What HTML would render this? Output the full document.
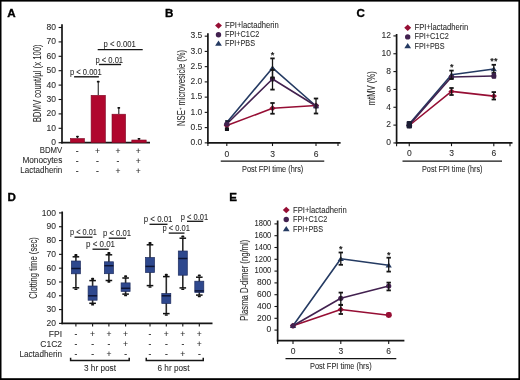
<!DOCTYPE html><html><head><meta charset="utf-8"><style>html,body{margin:0;padding:0;background:#fff;overflow:hidden;}svg{display:block;will-change:transform;}</style></head><body>
<svg width="520" height="380" viewBox="0 0 520 380" font-family='"Liberation Sans", sans-serif'>
<rect x="0" y="0" width="520" height="380" fill="#fff"/>
<rect x="0" y="0" width="520" height="1.6" fill="#000"/>
<rect x="0" y="0" width="1.5" height="380" fill="#000"/>
<rect x="518.4" y="0" width="1.6" height="380" fill="#000"/>
<rect x="0" y="378.2" width="520" height="1.8" fill="#000"/>
<text x="7.2" y="17.2" font-size="11.6" text-anchor="start" fill="#000" font-weight="bold" stroke="#000" stroke-width="0.35">A</text>
<text x="165.0" y="17.2" font-size="11.6" text-anchor="start" fill="#000" font-weight="bold" stroke="#000" stroke-width="0.35">B</text>
<text x="356.6" y="17.2" font-size="11.6" text-anchor="start" fill="#000" font-weight="bold" stroke="#000" stroke-width="0.35">C</text>
<text x="7.4" y="201.4" font-size="11.6" text-anchor="start" fill="#000" font-weight="bold" stroke="#000" stroke-width="0.35">D</text>
<text x="229.2" y="201.4" font-size="11.6" text-anchor="start" fill="#000" font-weight="bold" stroke="#000" stroke-width="0.35">E</text>
<line x1="62.0" y1="24.3" x2="62.0" y2="143.5" stroke="#151515" stroke-width="1.7" stroke-linecap="butt"/>
<line x1="61.2" y1="142.7" x2="150" y2="142.7" stroke="#151515" stroke-width="1.7" stroke-linecap="butt"/>
<line x1="58.6" y1="142.7" x2="62.0" y2="142.7" stroke="#151515" stroke-width="1.1" stroke-linecap="butt"/>
<text x="55.9" y="145.2" font-size="8.5" text-anchor="end" fill="#2b2b2b" font-weight="normal" stroke="#2b2b2b" stroke-width="0.08">0</text>
<line x1="58.6" y1="128.29999999999998" x2="62.0" y2="128.29999999999998" stroke="#151515" stroke-width="1.1" stroke-linecap="butt"/>
<text x="55.9" y="130.79999999999998" font-size="8.5" text-anchor="end" fill="#2b2b2b" font-weight="normal" stroke="#2b2b2b" stroke-width="0.08">10</text>
<line x1="58.6" y1="113.89999999999999" x2="62.0" y2="113.89999999999999" stroke="#151515" stroke-width="1.1" stroke-linecap="butt"/>
<text x="55.9" y="116.39999999999999" font-size="8.5" text-anchor="end" fill="#2b2b2b" font-weight="normal" stroke="#2b2b2b" stroke-width="0.08">20</text>
<line x1="58.6" y1="99.5" x2="62.0" y2="99.5" stroke="#151515" stroke-width="1.1" stroke-linecap="butt"/>
<text x="55.9" y="102.0" font-size="8.5" text-anchor="end" fill="#2b2b2b" font-weight="normal" stroke="#2b2b2b" stroke-width="0.08">30</text>
<line x1="58.6" y1="85.1" x2="62.0" y2="85.1" stroke="#151515" stroke-width="1.1" stroke-linecap="butt"/>
<text x="55.9" y="87.6" font-size="8.5" text-anchor="end" fill="#2b2b2b" font-weight="normal" stroke="#2b2b2b" stroke-width="0.08">40</text>
<line x1="58.6" y1="70.69999999999999" x2="62.0" y2="70.69999999999999" stroke="#151515" stroke-width="1.1" stroke-linecap="butt"/>
<text x="55.9" y="73.19999999999999" font-size="8.5" text-anchor="end" fill="#2b2b2b" font-weight="normal" stroke="#2b2b2b" stroke-width="0.08">50</text>
<line x1="58.6" y1="56.3" x2="62.0" y2="56.3" stroke="#151515" stroke-width="1.1" stroke-linecap="butt"/>
<text x="55.9" y="58.8" font-size="8.5" text-anchor="end" fill="#2b2b2b" font-weight="normal" stroke="#2b2b2b" stroke-width="0.08">60</text>
<line x1="58.6" y1="41.89999999999999" x2="62.0" y2="41.89999999999999" stroke="#151515" stroke-width="1.1" stroke-linecap="butt"/>
<text x="55.9" y="44.39999999999999" font-size="8.5" text-anchor="end" fill="#2b2b2b" font-weight="normal" stroke="#2b2b2b" stroke-width="0.08">70</text>
<line x1="58.6" y1="27.5" x2="62.0" y2="27.5" stroke="#151515" stroke-width="1.1" stroke-linecap="butt"/>
<text x="55.9" y="30.0" font-size="8.5" text-anchor="end" fill="#2b2b2b" font-weight="normal" stroke="#2b2b2b" stroke-width="0.08">80</text>
<text x="0" y="0" font-size="10" text-anchor="middle" fill="#2b2b2b" stroke="#2b2b2b" stroke-width="0.08" transform="translate(41.3,83.3) rotate(-90)" textLength="78" lengthAdjust="spacingAndGlyphs">BDMV count/µl (x 100)</text>
<line x1="77.44999999999999" y1="138.2" x2="77.44999999999999" y2="136.3" stroke="#222" stroke-width="1.1" stroke-linecap="butt"/>
<rect x="76.04999999999998" y="135.70000000000002" width="2.8" height="1.8" rx="0.7" fill="#111"/>
<rect x="70.39999999999999" y="138.5" width="14.100000000000003" height="4.2" fill="#b0072e" stroke="#7e0a26" stroke-width="0.6"/>
<line x1="98.25" y1="95.0" x2="98.25" y2="81.4" stroke="#222" stroke-width="1.1" stroke-linecap="butt"/>
<rect x="96.85" y="80.80000000000001" width="2.8" height="1.8" rx="0.7" fill="#111"/>
<rect x="91.1" y="95.3" width="14.300000000000006" height="47.39999999999999" fill="#b0072e" stroke="#7e0a26" stroke-width="0.6"/>
<line x1="118.80000000000001" y1="113.9" x2="118.80000000000001" y2="107.6" stroke="#222" stroke-width="1.1" stroke-linecap="butt"/>
<rect x="117.4" y="107.0" width="2.8" height="1.8" rx="0.7" fill="#111"/>
<rect x="112.0" y="114.2" width="13.600000000000003" height="28.499999999999982" fill="#b0072e" stroke="#7e0a26" stroke-width="0.6"/>
<line x1="139.0" y1="139.7" x2="139.0" y2="138.5" stroke="#222" stroke-width="1.1" stroke-linecap="butt"/>
<rect x="137.6" y="137.9" width="2.8" height="1.8" rx="0.7" fill="#111"/>
<rect x="131.8" y="140.0" width="14.4" height="2.7" fill="#b0072e" stroke="#7e0a26" stroke-width="0.6"/>
<text x="62.3" y="153.2" font-size="8.5" text-anchor="end" fill="#2b2b2b" font-weight="normal" stroke="#2b2b2b" stroke-width="0.08" textLength="22.5" lengthAdjust="spacingAndGlyphs">BDMV</text>
<text x="77.1" y="153.89999999999998" font-size="8.5" text-anchor="middle" fill="#2b2b2b" font-weight="normal" stroke="#2b2b2b" stroke-width="0.08">-</text>
<text x="97.5" y="153.89999999999998" font-size="8.5" text-anchor="middle" fill="#2b2b2b" font-weight="normal" stroke="#2b2b2b" stroke-width="0.08">+</text>
<text x="117.89999999999999" y="153.89999999999998" font-size="8.5" text-anchor="middle" fill="#2b2b2b" font-weight="normal" stroke="#2b2b2b" stroke-width="0.08">+</text>
<text x="138.2" y="153.89999999999998" font-size="8.5" text-anchor="middle" fill="#2b2b2b" font-weight="normal" stroke="#2b2b2b" stroke-width="0.08">+</text>
<text x="62.3" y="163.4" font-size="8.5" text-anchor="end" fill="#2b2b2b" font-weight="normal" stroke="#2b2b2b" stroke-width="0.08" textLength="39.9" lengthAdjust="spacingAndGlyphs">Monocytes</text>
<text x="77.1" y="164.1" font-size="8.5" text-anchor="middle" fill="#2b2b2b" font-weight="normal" stroke="#2b2b2b" stroke-width="0.08">-</text>
<text x="97.5" y="164.1" font-size="8.5" text-anchor="middle" fill="#2b2b2b" font-weight="normal" stroke="#2b2b2b" stroke-width="0.08">-</text>
<text x="117.89999999999999" y="164.1" font-size="8.5" text-anchor="middle" fill="#2b2b2b" font-weight="normal" stroke="#2b2b2b" stroke-width="0.08">-</text>
<text x="138.2" y="164.1" font-size="8.5" text-anchor="middle" fill="#2b2b2b" font-weight="normal" stroke="#2b2b2b" stroke-width="0.08">+</text>
<text x="62.3" y="172.9" font-size="8.5" text-anchor="end" fill="#2b2b2b" font-weight="normal" stroke="#2b2b2b" stroke-width="0.08" textLength="42" lengthAdjust="spacingAndGlyphs">Lactadherin</text>
<text x="77.1" y="173.6" font-size="8.5" text-anchor="middle" fill="#2b2b2b" font-weight="normal" stroke="#2b2b2b" stroke-width="0.08">-</text>
<text x="97.5" y="173.6" font-size="8.5" text-anchor="middle" fill="#2b2b2b" font-weight="normal" stroke="#2b2b2b" stroke-width="0.08">-</text>
<text x="117.89999999999999" y="173.6" font-size="8.5" text-anchor="middle" fill="#2b2b2b" font-weight="normal" stroke="#2b2b2b" stroke-width="0.08">+</text>
<text x="138.2" y="173.6" font-size="8.5" text-anchor="middle" fill="#2b2b2b" font-weight="normal" stroke="#2b2b2b" stroke-width="0.08">+</text>
<text x="70" y="75.1" font-size="8.5" text-anchor="start" fill="#2b2b2b" font-weight="normal" stroke="#2b2b2b" stroke-width="0.08" textLength="31.8" lengthAdjust="spacingAndGlyphs">p &lt; 0.001</text>
<line x1="74.1" y1="76.8" x2="98.9" y2="76.8" stroke="#151515" stroke-width="1.4" stroke-linecap="butt"/>
<text x="95.4" y="63.0" font-size="8.5" text-anchor="start" fill="#2b2b2b" font-weight="normal" stroke="#2b2b2b" stroke-width="0.08" textLength="27.7" lengthAdjust="spacingAndGlyphs">p &lt; 0.01</text>
<line x1="98.9" y1="64.5" x2="121.1" y2="64.5" stroke="#151515" stroke-width="1.4" stroke-linecap="butt"/>
<text x="103.5" y="47.0" font-size="8.5" text-anchor="start" fill="#2b2b2b" font-weight="normal" stroke="#2b2b2b" stroke-width="0.08" textLength="32.3" lengthAdjust="spacingAndGlyphs">p &lt; 0.001</text>
<line x1="97.7" y1="49.6" x2="142.7" y2="49.6" stroke="#151515" stroke-width="1.4" stroke-linecap="butt"/>
<line x1="207.9" y1="33.3" x2="207.9" y2="143.65" stroke="#151515" stroke-width="1.7" stroke-linecap="butt"/>
<line x1="207.1" y1="142.85" x2="340.6" y2="142.85" stroke="#151515" stroke-width="1.7" stroke-linecap="butt"/>
<line x1="204.70000000000002" y1="142.85" x2="207.9" y2="142.85" stroke="#151515" stroke-width="1.1" stroke-linecap="butt"/>
<text x="202.3" y="145.15" font-size="8.5" text-anchor="end" fill="#2b2b2b" font-weight="normal" stroke="#2b2b2b" stroke-width="0.08">0.0</text>
<line x1="204.70000000000002" y1="127.61" x2="207.9" y2="127.61" stroke="#151515" stroke-width="1.1" stroke-linecap="butt"/>
<text x="202.3" y="129.91" font-size="8.5" text-anchor="end" fill="#2b2b2b" font-weight="normal" stroke="#2b2b2b" stroke-width="0.08">0.5</text>
<line x1="204.70000000000002" y1="112.36999999999999" x2="207.9" y2="112.36999999999999" stroke="#151515" stroke-width="1.1" stroke-linecap="butt"/>
<text x="202.3" y="114.66999999999999" font-size="8.5" text-anchor="end" fill="#2b2b2b" font-weight="normal" stroke="#2b2b2b" stroke-width="0.08">1.0</text>
<line x1="204.70000000000002" y1="97.13" x2="207.9" y2="97.13" stroke="#151515" stroke-width="1.1" stroke-linecap="butt"/>
<text x="202.3" y="99.42999999999999" font-size="8.5" text-anchor="end" fill="#2b2b2b" font-weight="normal" stroke="#2b2b2b" stroke-width="0.08">1.5</text>
<line x1="204.70000000000002" y1="81.88999999999999" x2="207.9" y2="81.88999999999999" stroke="#151515" stroke-width="1.1" stroke-linecap="butt"/>
<text x="202.3" y="84.18999999999998" font-size="8.5" text-anchor="end" fill="#2b2b2b" font-weight="normal" stroke="#2b2b2b" stroke-width="0.08">2.0</text>
<line x1="204.70000000000002" y1="66.64999999999999" x2="207.9" y2="66.64999999999999" stroke="#151515" stroke-width="1.1" stroke-linecap="butt"/>
<text x="202.3" y="68.94999999999999" font-size="8.5" text-anchor="end" fill="#2b2b2b" font-weight="normal" stroke="#2b2b2b" stroke-width="0.08">2.5</text>
<line x1="204.70000000000002" y1="51.41" x2="207.9" y2="51.41" stroke="#151515" stroke-width="1.1" stroke-linecap="butt"/>
<text x="202.3" y="53.709999999999994" font-size="8.5" text-anchor="end" fill="#2b2b2b" font-weight="normal" stroke="#2b2b2b" stroke-width="0.08">3.0</text>
<line x1="204.70000000000002" y1="36.16999999999999" x2="207.9" y2="36.16999999999999" stroke="#151515" stroke-width="1.1" stroke-linecap="butt"/>
<text x="202.3" y="38.469999999999985" font-size="8.5" text-anchor="end" fill="#2b2b2b" font-weight="normal" stroke="#2b2b2b" stroke-width="0.08">3.5</text>
<line x1="207.9" y1="142.85" x2="207.9" y2="146.04999999999998" stroke="#151515" stroke-width="1.1" stroke-linecap="butt"/>
<line x1="226.8" y1="142.85" x2="226.8" y2="146.04999999999998" stroke="#151515" stroke-width="1.1" stroke-linecap="butt"/>
<line x1="272.5" y1="142.85" x2="272.5" y2="146.04999999999998" stroke="#151515" stroke-width="1.1" stroke-linecap="butt"/>
<line x1="316.0" y1="142.85" x2="316.0" y2="146.04999999999998" stroke="#151515" stroke-width="1.1" stroke-linecap="butt"/>
<line x1="338.0" y1="142.85" x2="338.0" y2="146.04999999999998" stroke="#151515" stroke-width="1.1" stroke-linecap="butt"/>
<text x="226.8" y="157.2" font-size="8.5" text-anchor="middle" fill="#2b2b2b" font-weight="normal" stroke="#2b2b2b" stroke-width="0.08">0</text>
<text x="272.5" y="157.2" font-size="8.5" text-anchor="middle" fill="#2b2b2b" font-weight="normal" stroke="#2b2b2b" stroke-width="0.08">3</text>
<text x="316.0" y="157.2" font-size="8.5" text-anchor="middle" fill="#2b2b2b" font-weight="normal" stroke="#2b2b2b" stroke-width="0.08">6</text>
<line x1="220.75" y1="161.1" x2="324.25" y2="161.1" stroke="#151515" stroke-width="1.4" stroke-linecap="butt"/>
<text x="242.0" y="171.8" font-size="8.2" text-anchor="start" fill="#2b2b2b" font-weight="normal" stroke="#2b2b2b" stroke-width="0.08" textLength="61.3" lengthAdjust="spacingAndGlyphs">Post FPI time (hrs)</text>
<polyline points="226.8,125.6 272.5,108.25 316,105.5" fill="none" stroke="#960e34" stroke-width="1.6" stroke-linejoin="round"/>
<polyline points="226.8,122.5 272.5,67.9 316,106" fill="none" stroke="#243a62" stroke-width="1.6" stroke-linejoin="round"/>
<polyline points="226.8,124 272.5,79 316,106" fill="none" stroke="#42214f" stroke-width="1.6" stroke-linejoin="round"/>
<polygon points="226.8,122.69999999999999 229.93200000000002,125.6 226.8,128.5 223.668,125.6" fill="#960e34"/>
<polygon points="272.5,105.35 275.632,108.25 272.5,111.15 269.368,108.25" fill="#960e34"/>
<polygon points="316,102.6 319.132,105.5 316,108.4 312.868,105.5" fill="#960e34"/>
<polygon points="226.8,119.9 229.92000000000002,124.71 223.68,124.71" fill="#243a62"/>
<polygon points="272.5,65.30000000000001 275.62,70.11 269.38,70.11" fill="#243a62"/>
<polygon points="316,103.4 319.12,108.21 312.88,108.21" fill="#243a62"/>
<circle cx="226.8" cy="124" r="2.6" fill="#42214f"/>
<circle cx="272.5" cy="79" r="2.6" fill="#42214f"/>
<circle cx="316" cy="106" r="2.6" fill="#42214f"/>
<line x1="272.5" y1="103" x2="272.5" y2="113.75" stroke="#151515" stroke-width="1.3" stroke-linecap="butt"/>
<line x1="270.3" y1="103" x2="274.7" y2="103" stroke="#151515" stroke-width="1.8" stroke-linecap="butt"/>
<line x1="270.3" y1="113.75" x2="274.7" y2="113.75" stroke="#151515" stroke-width="1.8" stroke-linecap="butt"/>
<line x1="272.5" y1="58.4" x2="272.5" y2="77.5" stroke="#151515" stroke-width="1.3" stroke-linecap="butt"/>
<line x1="270.3" y1="58.4" x2="274.7" y2="58.4" stroke="#151515" stroke-width="1.8" stroke-linecap="butt"/>
<line x1="270.3" y1="77.5" x2="274.7" y2="77.5" stroke="#151515" stroke-width="1.8" stroke-linecap="butt"/>
<line x1="316" y1="98.5" x2="316" y2="113.5" stroke="#151515" stroke-width="1.3" stroke-linecap="butt"/>
<line x1="313.8" y1="98.5" x2="318.2" y2="98.5" stroke="#151515" stroke-width="1.8" stroke-linecap="butt"/>
<line x1="313.8" y1="113.5" x2="318.2" y2="113.5" stroke="#151515" stroke-width="1.8" stroke-linecap="butt"/>
<line x1="272.5" y1="70" x2="272.5" y2="89.6" stroke="#151515" stroke-width="1.3" stroke-linecap="butt"/>
<line x1="270.3" y1="70" x2="274.7" y2="70" stroke="#151515" stroke-width="1.8" stroke-linecap="butt"/>
<line x1="270.3" y1="89.6" x2="274.7" y2="89.6" stroke="#151515" stroke-width="1.8" stroke-linecap="butt"/>
<text x="272.6" y="58.3" font-size="9.2" text-anchor="middle" fill="#111" font-weight="normal" stroke="#111" stroke-width="0.25">*</text>
<polygon points="218.5,22.400000000000002 221.956,25.6 218.5,28.8 215.044,25.6" fill="#960e34"/>
<text x="225.0" y="28.2" font-size="8.5" text-anchor="start" fill="#2b2b2b" font-weight="normal" stroke="#2b2b2b" stroke-width="0.08" textLength="53.75" lengthAdjust="spacingAndGlyphs">FPI+lactadherin</text>
<circle cx="218.5" cy="34.7" r="2.7" fill="#42214f"/>
<text x="225.0" y="37.2" font-size="8.5" text-anchor="start" fill="#2b2b2b" font-weight="normal" stroke="#2b2b2b" stroke-width="0.08" textLength="34.25" lengthAdjust="spacingAndGlyphs">FPI+C1C2</text>
<polygon points="218.5,40.6 221.86,45.78 215.14,45.78" fill="#243a62"/>
<text x="225.0" y="46.1" font-size="8.5" text-anchor="start" fill="#2b2b2b" font-weight="normal" stroke="#2b2b2b" stroke-width="0.08" textLength="30" lengthAdjust="spacingAndGlyphs">FPI+PBS</text>
<text x="0" y="0" font-size="10" text-anchor="middle" fill="#2b2b2b" stroke="#2b2b2b" stroke-width="0.08" transform="translate(184.8,87.9) rotate(-90)" textLength="76" lengthAdjust="spacingAndGlyphs">NSE<tspan font-size="6" dy="-3.2">+</tspan><tspan dy="3.2"> microvesicle (%)</tspan></text>
<line x1="396.6" y1="34.0" x2="396.6" y2="143.75" stroke="#151515" stroke-width="1.7" stroke-linecap="butt"/>
<line x1="395.8" y1="142.95" x2="512.5" y2="142.95" stroke="#151515" stroke-width="1.7" stroke-linecap="butt"/>
<line x1="393.40000000000003" y1="142.95" x2="396.6" y2="142.95" stroke="#151515" stroke-width="1.1" stroke-linecap="butt"/>
<text x="391.0" y="145.25" font-size="8.5" text-anchor="end" fill="#2b2b2b" font-weight="normal" stroke="#2b2b2b" stroke-width="0.08">0</text>
<line x1="393.40000000000003" y1="125.10999999999999" x2="396.6" y2="125.10999999999999" stroke="#151515" stroke-width="1.1" stroke-linecap="butt"/>
<text x="391.0" y="127.40999999999998" font-size="8.5" text-anchor="end" fill="#2b2b2b" font-weight="normal" stroke="#2b2b2b" stroke-width="0.08">2</text>
<line x1="393.40000000000003" y1="107.26999999999998" x2="396.6" y2="107.26999999999998" stroke="#151515" stroke-width="1.1" stroke-linecap="butt"/>
<text x="391.0" y="109.56999999999998" font-size="8.5" text-anchor="end" fill="#2b2b2b" font-weight="normal" stroke="#2b2b2b" stroke-width="0.08">4</text>
<line x1="393.40000000000003" y1="89.42999999999999" x2="396.6" y2="89.42999999999999" stroke="#151515" stroke-width="1.1" stroke-linecap="butt"/>
<text x="391.0" y="91.72999999999999" font-size="8.5" text-anchor="end" fill="#2b2b2b" font-weight="normal" stroke="#2b2b2b" stroke-width="0.08">6</text>
<line x1="393.40000000000003" y1="71.58999999999999" x2="396.6" y2="71.58999999999999" stroke="#151515" stroke-width="1.1" stroke-linecap="butt"/>
<text x="391.0" y="73.88999999999999" font-size="8.5" text-anchor="end" fill="#2b2b2b" font-weight="normal" stroke="#2b2b2b" stroke-width="0.08">8</text>
<line x1="393.40000000000003" y1="53.749999999999986" x2="396.6" y2="53.749999999999986" stroke="#151515" stroke-width="1.1" stroke-linecap="butt"/>
<text x="391.0" y="56.04999999999998" font-size="8.5" text-anchor="end" fill="#2b2b2b" font-weight="normal" stroke="#2b2b2b" stroke-width="0.08">10</text>
<line x1="393.40000000000003" y1="35.91" x2="396.6" y2="35.91" stroke="#151515" stroke-width="1.1" stroke-linecap="butt"/>
<text x="391.0" y="38.209999999999994" font-size="8.5" text-anchor="end" fill="#2b2b2b" font-weight="normal" stroke="#2b2b2b" stroke-width="0.08">12</text>
<line x1="396.6" y1="142.95" x2="396.6" y2="146.14999999999998" stroke="#151515" stroke-width="1.1" stroke-linecap="butt"/>
<line x1="409.25" y1="142.95" x2="409.25" y2="146.14999999999998" stroke="#151515" stroke-width="1.1" stroke-linecap="butt"/>
<line x1="451.5" y1="142.95" x2="451.5" y2="146.14999999999998" stroke="#151515" stroke-width="1.1" stroke-linecap="butt"/>
<line x1="493.8" y1="142.95" x2="493.8" y2="146.14999999999998" stroke="#151515" stroke-width="1.1" stroke-linecap="butt"/>
<line x1="510.0" y1="142.95" x2="510.0" y2="146.14999999999998" stroke="#151515" stroke-width="1.1" stroke-linecap="butt"/>
<text x="409.25" y="156.4" font-size="8.5" text-anchor="middle" fill="#2b2b2b" font-weight="normal" stroke="#2b2b2b" stroke-width="0.08">0</text>
<text x="451.5" y="156.4" font-size="8.5" text-anchor="middle" fill="#2b2b2b" font-weight="normal" stroke="#2b2b2b" stroke-width="0.08">3</text>
<text x="493.8" y="156.4" font-size="8.5" text-anchor="middle" fill="#2b2b2b" font-weight="normal" stroke="#2b2b2b" stroke-width="0.08">6</text>
<line x1="402.5" y1="161.1" x2="502.0" y2="161.1" stroke="#151515" stroke-width="1.4" stroke-linecap="butt"/>
<text x="422.0" y="171.8" font-size="8.2" text-anchor="start" fill="#2b2b2b" font-weight="normal" stroke="#2b2b2b" stroke-width="0.08" textLength="60.5" lengthAdjust="spacingAndGlyphs">Post FPI time (hrs)</text>
<polyline points="409.25,125.5 451.5,91.4 493.8,96.1" fill="none" stroke="#960e34" stroke-width="1.6" stroke-linejoin="round"/>
<polyline points="409.25,124 451.5,74.8 493.8,69" fill="none" stroke="#243a62" stroke-width="1.6" stroke-linejoin="round"/>
<polyline points="409.25,125 451.5,77 493.8,76" fill="none" stroke="#42214f" stroke-width="1.6" stroke-linejoin="round"/>
<polygon points="409.25,122.6 412.382,125.5 409.25,128.4 406.118,125.5" fill="#960e34"/>
<polygon points="451.5,88.5 454.632,91.4 451.5,94.30000000000001 448.368,91.4" fill="#960e34"/>
<polygon points="493.8,93.19999999999999 496.932,96.1 493.8,99.0 490.668,96.1" fill="#960e34"/>
<polygon points="409.25,121.4 412.37,126.21 406.13,126.21" fill="#243a62"/>
<polygon points="451.5,72.2 454.62,77.00999999999999 448.38,77.00999999999999" fill="#243a62"/>
<polygon points="493.8,66.4 496.92,71.21 490.68,71.21" fill="#243a62"/>
<circle cx="409.25" cy="125" r="2.6" fill="#42214f"/>
<circle cx="451.5" cy="77" r="2.6" fill="#42214f"/>
<circle cx="493.8" cy="76" r="2.6" fill="#42214f"/>
<line x1="451.5" y1="88" x2="451.5" y2="95" stroke="#151515" stroke-width="1.3" stroke-linecap="butt"/>
<line x1="449.3" y1="88" x2="453.7" y2="88" stroke="#151515" stroke-width="1.8" stroke-linecap="butt"/>
<line x1="449.3" y1="95" x2="453.7" y2="95" stroke="#151515" stroke-width="1.8" stroke-linecap="butt"/>
<line x1="493.8" y1="92.1" x2="493.8" y2="99.5" stroke="#151515" stroke-width="1.3" stroke-linecap="butt"/>
<line x1="491.6" y1="92.1" x2="496.0" y2="92.1" stroke="#151515" stroke-width="1.8" stroke-linecap="butt"/>
<line x1="491.6" y1="99.5" x2="496.0" y2="99.5" stroke="#151515" stroke-width="1.8" stroke-linecap="butt"/>
<line x1="451.5" y1="70.6" x2="451.5" y2="79" stroke="#151515" stroke-width="1.3" stroke-linecap="butt"/>
<line x1="449.3" y1="70.6" x2="453.7" y2="70.6" stroke="#151515" stroke-width="1.8" stroke-linecap="butt"/>
<line x1="449.3" y1="79" x2="453.7" y2="79" stroke="#151515" stroke-width="1.8" stroke-linecap="butt"/>
<line x1="493.8" y1="64.8" x2="493.8" y2="73" stroke="#151515" stroke-width="1.3" stroke-linecap="butt"/>
<line x1="491.6" y1="64.8" x2="496.0" y2="64.8" stroke="#151515" stroke-width="1.8" stroke-linecap="butt"/>
<line x1="491.6" y1="73" x2="496.0" y2="73" stroke="#151515" stroke-width="1.8" stroke-linecap="butt"/>
<text x="451.8" y="69.7" font-size="9.2" text-anchor="middle" fill="#111" font-weight="normal" stroke="#111" stroke-width="0.25">*</text>
<text x="493.9" y="63.6" font-size="9.2" text-anchor="middle" fill="#111" font-weight="normal" stroke="#111" stroke-width="0.25">**</text>
<polygon points="407.7,24.6 411.156,27.8 407.7,31.0 404.24399999999997,27.8" fill="#960e34"/>
<text x="414.5" y="30.4" font-size="8.5" text-anchor="start" fill="#2b2b2b" font-weight="normal" stroke="#2b2b2b" stroke-width="0.08" textLength="53.75" lengthAdjust="spacingAndGlyphs">FPI+lactadherin</text>
<circle cx="407.7" cy="36.9" r="2.7" fill="#42214f"/>
<text x="414.5" y="39.4" font-size="8.5" text-anchor="start" fill="#2b2b2b" font-weight="normal" stroke="#2b2b2b" stroke-width="0.08" textLength="34.25" lengthAdjust="spacingAndGlyphs">FPI+C1C2</text>
<polygon points="407.7,43.1 411.06,48.28 404.34,48.28" fill="#243a62"/>
<text x="414.5" y="48.6" font-size="8.5" text-anchor="start" fill="#2b2b2b" font-weight="normal" stroke="#2b2b2b" stroke-width="0.08" textLength="30" lengthAdjust="spacingAndGlyphs">FPI+PBS</text>
<text x="0" y="0" font-size="10" text-anchor="middle" fill="#2b2b2b" stroke="#2b2b2b" stroke-width="0.08" transform="translate(375.2,88.3) rotate(-90)" textLength="34" lengthAdjust="spacingAndGlyphs">mtMV (%)</text>
<rect x="491.9" y="73.0" width="4.2" height="5.6" fill="#3a1f4a"/>
<rect x="406.6" y="120.9" width="5.4" height="7.6" rx="1" fill="#1b1d33"/>
<line x1="225.1" y1="121.0" x2="229.8" y2="121.0" stroke="#161a2e" stroke-width="1.6" stroke-linecap="butt"/>
<rect x="224.9" y="127.3" width="4.1" height="3.7" rx="0.5" fill="#121218"/>
<line x1="277.65" y1="220.5" x2="277.65" y2="341.5" stroke="#151515" stroke-width="1.7" stroke-linecap="butt"/>
<line x1="276.84999999999997" y1="340.7" x2="404.4" y2="340.7" stroke="#151515" stroke-width="1.7" stroke-linecap="butt"/>
<line x1="274.45" y1="330.1" x2="277.65" y2="330.1" stroke="#151515" stroke-width="1.1" stroke-linecap="butt"/>
<text x="271.3" y="332.40000000000003" font-size="8.5" text-anchor="end" fill="#2b2b2b" font-weight="normal" stroke="#2b2b2b" stroke-width="0.08">0</text>
<line x1="274.45" y1="318.3" x2="277.65" y2="318.3" stroke="#151515" stroke-width="1.1" stroke-linecap="butt"/>
<text x="271.3" y="320.6" font-size="8.5" text-anchor="end" fill="#2b2b2b" font-weight="normal" stroke="#2b2b2b" stroke-width="0.08">200</text>
<line x1="274.45" y1="306.5" x2="277.65" y2="306.5" stroke="#151515" stroke-width="1.1" stroke-linecap="butt"/>
<text x="271.3" y="308.8" font-size="8.5" text-anchor="end" fill="#2b2b2b" font-weight="normal" stroke="#2b2b2b" stroke-width="0.08">400</text>
<line x1="274.45" y1="294.70000000000005" x2="277.65" y2="294.70000000000005" stroke="#151515" stroke-width="1.1" stroke-linecap="butt"/>
<text x="271.3" y="297.00000000000006" font-size="8.5" text-anchor="end" fill="#2b2b2b" font-weight="normal" stroke="#2b2b2b" stroke-width="0.08">600</text>
<line x1="274.45" y1="282.90000000000003" x2="277.65" y2="282.90000000000003" stroke="#151515" stroke-width="1.1" stroke-linecap="butt"/>
<text x="271.3" y="285.20000000000005" font-size="8.5" text-anchor="end" fill="#2b2b2b" font-weight="normal" stroke="#2b2b2b" stroke-width="0.08">800</text>
<line x1="274.45" y1="271.1" x2="277.65" y2="271.1" stroke="#151515" stroke-width="1.1" stroke-linecap="butt"/>
<text x="271.3" y="273.40000000000003" font-size="8.5" text-anchor="end" fill="#2b2b2b" font-weight="normal" stroke="#2b2b2b" stroke-width="0.08" textLength="16.8" lengthAdjust="spacingAndGlyphs">1000</text>
<line x1="274.45" y1="259.3" x2="277.65" y2="259.3" stroke="#151515" stroke-width="1.1" stroke-linecap="butt"/>
<text x="271.3" y="261.6" font-size="8.5" text-anchor="end" fill="#2b2b2b" font-weight="normal" stroke="#2b2b2b" stroke-width="0.08" textLength="16.8" lengthAdjust="spacingAndGlyphs">1200</text>
<line x1="274.45" y1="247.5" x2="277.65" y2="247.5" stroke="#151515" stroke-width="1.1" stroke-linecap="butt"/>
<text x="271.3" y="249.8" font-size="8.5" text-anchor="end" fill="#2b2b2b" font-weight="normal" stroke="#2b2b2b" stroke-width="0.08" textLength="16.8" lengthAdjust="spacingAndGlyphs">1400</text>
<line x1="274.45" y1="235.70000000000002" x2="277.65" y2="235.70000000000002" stroke="#151515" stroke-width="1.1" stroke-linecap="butt"/>
<text x="271.3" y="238.00000000000003" font-size="8.5" text-anchor="end" fill="#2b2b2b" font-weight="normal" stroke="#2b2b2b" stroke-width="0.08" textLength="16.8" lengthAdjust="spacingAndGlyphs">1600</text>
<line x1="274.45" y1="223.90000000000003" x2="277.65" y2="223.90000000000003" stroke="#151515" stroke-width="1.1" stroke-linecap="butt"/>
<text x="271.3" y="226.20000000000005" font-size="8.5" text-anchor="end" fill="#2b2b2b" font-weight="normal" stroke="#2b2b2b" stroke-width="0.08" textLength="16.8" lengthAdjust="spacingAndGlyphs">1800</text>
<line x1="277.65" y1="340.7" x2="277.65" y2="343.9" stroke="#151515" stroke-width="1.1" stroke-linecap="butt"/>
<line x1="293.0" y1="340.7" x2="293.0" y2="343.9" stroke="#151515" stroke-width="1.1" stroke-linecap="butt"/>
<line x1="340.8" y1="340.7" x2="340.8" y2="343.9" stroke="#151515" stroke-width="1.1" stroke-linecap="butt"/>
<line x1="388.7" y1="340.7" x2="388.7" y2="343.9" stroke="#151515" stroke-width="1.1" stroke-linecap="butt"/>
<text x="293.0" y="354.0" font-size="8.5" text-anchor="middle" fill="#2b2b2b" font-weight="normal" stroke="#2b2b2b" stroke-width="0.08">0</text>
<text x="340.8" y="354.0" font-size="8.5" text-anchor="middle" fill="#2b2b2b" font-weight="normal" stroke="#2b2b2b" stroke-width="0.08">3</text>
<text x="388.7" y="354.0" font-size="8.5" text-anchor="middle" fill="#2b2b2b" font-weight="normal" stroke="#2b2b2b" stroke-width="0.08">6</text>
<line x1="285.5" y1="358.6" x2="396.3" y2="358.6" stroke="#151515" stroke-width="1.4" stroke-linecap="butt"/>
<text x="310.0" y="368.8" font-size="8.2" text-anchor="start" fill="#2b2b2b" font-weight="normal" stroke="#2b2b2b" stroke-width="0.08" textLength="61.7" lengthAdjust="spacingAndGlyphs">Post FPI time (hrs)</text>
<polyline points="293,325.75 340.8,309.5 388.7,315.2" fill="none" stroke="#960e34" stroke-width="1.6" stroke-linejoin="round"/>
<polyline points="293,325.75 340.8,258.8 388.7,265.2" fill="none" stroke="#243a62" stroke-width="1.6" stroke-linejoin="round"/>
<polyline points="293,325.75 340.8,298.3 388.7,286" fill="none" stroke="#42214f" stroke-width="1.6" stroke-linejoin="round"/>
<polygon points="293,322.85 296.132,325.75 293,328.65 289.868,325.75" fill="#960e34"/>
<polygon points="340.8,306.6 343.932,309.5 340.8,312.4 337.668,309.5" fill="#960e34"/>
<polygon points="388.7,312.3 391.832,315.2 388.7,318.09999999999997 385.568,315.2" fill="#960e34"/>
<polygon points="293,323.15 296.12,327.96 289.88,327.96" fill="#243a62"/>
<polygon points="340.8,256.2 343.92,261.01 337.68,261.01" fill="#243a62"/>
<polygon points="388.7,262.59999999999997 391.82,267.40999999999997 385.58,267.40999999999997" fill="#243a62"/>
<circle cx="293" cy="325.75" r="2.6" fill="#42214f"/>
<circle cx="340.8" cy="298.3" r="2.6" fill="#42214f"/>
<circle cx="388.7" cy="286" r="2.6" fill="#42214f"/>
<line x1="340.8" y1="305" x2="340.8" y2="314" stroke="#151515" stroke-width="1.3" stroke-linecap="butt"/>
<line x1="338.6" y1="305" x2="343.0" y2="305" stroke="#151515" stroke-width="1.8" stroke-linecap="butt"/>
<line x1="338.6" y1="314" x2="343.0" y2="314" stroke="#151515" stroke-width="1.8" stroke-linecap="butt"/>
<line x1="340.8" y1="252.5" x2="340.8" y2="264.8" stroke="#151515" stroke-width="1.3" stroke-linecap="butt"/>
<line x1="338.6" y1="252.5" x2="343.0" y2="252.5" stroke="#151515" stroke-width="1.8" stroke-linecap="butt"/>
<line x1="338.6" y1="264.8" x2="343.0" y2="264.8" stroke="#151515" stroke-width="1.8" stroke-linecap="butt"/>
<line x1="388.7" y1="257.7" x2="388.7" y2="271.6" stroke="#151515" stroke-width="1.3" stroke-linecap="butt"/>
<line x1="386.5" y1="257.7" x2="390.9" y2="257.7" stroke="#151515" stroke-width="1.8" stroke-linecap="butt"/>
<line x1="386.5" y1="271.6" x2="390.9" y2="271.6" stroke="#151515" stroke-width="1.8" stroke-linecap="butt"/>
<line x1="340.8" y1="292.6" x2="340.8" y2="304.8" stroke="#151515" stroke-width="1.3" stroke-linecap="butt"/>
<line x1="338.6" y1="292.6" x2="343.0" y2="292.6" stroke="#151515" stroke-width="1.8" stroke-linecap="butt"/>
<line x1="338.6" y1="304.8" x2="343.0" y2="304.8" stroke="#151515" stroke-width="1.8" stroke-linecap="butt"/>
<line x1="388.7" y1="282.6" x2="388.7" y2="290.4" stroke="#151515" stroke-width="1.3" stroke-linecap="butt"/>
<line x1="386.5" y1="282.6" x2="390.9" y2="282.6" stroke="#151515" stroke-width="1.8" stroke-linecap="butt"/>
<line x1="386.5" y1="290.4" x2="390.9" y2="290.4" stroke="#151515" stroke-width="1.8" stroke-linecap="butt"/>
<text x="340.8" y="252.3" font-size="9.2" text-anchor="middle" fill="#111" font-weight="normal" stroke="#111" stroke-width="0.25">*</text>
<text x="388.7" y="258.0" font-size="9.2" text-anchor="middle" fill="#111" font-weight="normal" stroke="#111" stroke-width="0.25">*</text>
<polygon points="286.25,206.8 289.706,210 286.25,213.2 282.794,210" fill="#960e34"/>
<text x="293.0" y="212.7" font-size="8.5" text-anchor="start" fill="#2b2b2b" font-weight="normal" stroke="#2b2b2b" stroke-width="0.08" textLength="53.75" lengthAdjust="spacingAndGlyphs">FPI+lactadherin</text>
<circle cx="286.25" cy="219.5" r="2.7" fill="#42214f"/>
<text x="293.0" y="222.2" font-size="8.5" text-anchor="start" fill="#2b2b2b" font-weight="normal" stroke="#2b2b2b" stroke-width="0.08" textLength="34.25" lengthAdjust="spacingAndGlyphs">FPI+C1C2</text>
<polygon points="286.25,225.95 289.61,231.13 282.89,231.13" fill="#243a62"/>
<text x="293.0" y="231.5" font-size="8.5" text-anchor="start" fill="#2b2b2b" font-weight="normal" stroke="#2b2b2b" stroke-width="0.08" textLength="30" lengthAdjust="spacingAndGlyphs">FPI+PBS</text>
<text x="0" y="0" font-size="10" text-anchor="middle" fill="#2b2b2b" stroke="#2b2b2b" stroke-width="0.08" transform="translate(247.8,280.25) rotate(-90)" textLength="81" lengthAdjust="spacingAndGlyphs">Plasma D-dimer (ng/ml)</text>
<rect x="385.9" y="311.9" width="5.8" height="5.8" rx="2.2" fill="#960e34"/>
<line x1="62.2" y1="211.5" x2="62.2" y2="324.2" stroke="#151515" stroke-width="1.7" stroke-linecap="butt"/>
<line x1="61.400000000000006" y1="323.4" x2="212.5" y2="323.4" stroke="#151515" stroke-width="1.7" stroke-linecap="butt"/>
<line x1="59.0" y1="323.4" x2="62.2" y2="323.4" stroke="#151515" stroke-width="1.1" stroke-linecap="butt"/>
<text x="56.0" y="326.0" font-size="8.5" text-anchor="end" fill="#2b2b2b" font-weight="normal" stroke="#2b2b2b" stroke-width="0.08">20</text>
<line x1="59.0" y1="309.59" x2="62.2" y2="309.59" stroke="#151515" stroke-width="1.1" stroke-linecap="butt"/>
<text x="56.0" y="312.19" font-size="8.5" text-anchor="end" fill="#2b2b2b" font-weight="normal" stroke="#2b2b2b" stroke-width="0.08">30</text>
<line x1="59.0" y1="295.78" x2="62.2" y2="295.78" stroke="#151515" stroke-width="1.1" stroke-linecap="butt"/>
<text x="56.0" y="298.38" font-size="8.5" text-anchor="end" fill="#2b2b2b" font-weight="normal" stroke="#2b2b2b" stroke-width="0.08">40</text>
<line x1="59.0" y1="281.96999999999997" x2="62.2" y2="281.96999999999997" stroke="#151515" stroke-width="1.1" stroke-linecap="butt"/>
<text x="56.0" y="284.57" font-size="8.5" text-anchor="end" fill="#2b2b2b" font-weight="normal" stroke="#2b2b2b" stroke-width="0.08">50</text>
<line x1="59.0" y1="268.15999999999997" x2="62.2" y2="268.15999999999997" stroke="#151515" stroke-width="1.1" stroke-linecap="butt"/>
<text x="56.0" y="270.76" font-size="8.5" text-anchor="end" fill="#2b2b2b" font-weight="normal" stroke="#2b2b2b" stroke-width="0.08">60</text>
<line x1="59.0" y1="254.34999999999997" x2="62.2" y2="254.34999999999997" stroke="#151515" stroke-width="1.1" stroke-linecap="butt"/>
<text x="56.0" y="256.95" font-size="8.5" text-anchor="end" fill="#2b2b2b" font-weight="normal" stroke="#2b2b2b" stroke-width="0.08">70</text>
<line x1="59.0" y1="240.53999999999996" x2="62.2" y2="240.53999999999996" stroke="#151515" stroke-width="1.1" stroke-linecap="butt"/>
<text x="56.0" y="243.13999999999996" font-size="8.5" text-anchor="end" fill="#2b2b2b" font-weight="normal" stroke="#2b2b2b" stroke-width="0.08">80</text>
<line x1="59.0" y1="226.72999999999996" x2="62.2" y2="226.72999999999996" stroke="#151515" stroke-width="1.1" stroke-linecap="butt"/>
<text x="56.0" y="229.32999999999996" font-size="8.5" text-anchor="end" fill="#2b2b2b" font-weight="normal" stroke="#2b2b2b" stroke-width="0.08">90</text>
<line x1="59.0" y1="212.91999999999996" x2="62.2" y2="212.91999999999996" stroke="#151515" stroke-width="1.1" stroke-linecap="butt"/>
<text x="56.0" y="215.51999999999995" font-size="8.5" text-anchor="end" fill="#2b2b2b" font-weight="normal" stroke="#2b2b2b" stroke-width="0.08">100</text>
<text x="0" y="0" font-size="10" text-anchor="middle" fill="#2b2b2b" stroke="#2b2b2b" stroke-width="0.08" transform="translate(37.4,268.0) rotate(-90)" textLength="61.7" lengthAdjust="spacingAndGlyphs">Clotting time (sec)</text>
<line x1="75.9" y1="256.8" x2="75.9" y2="287.8" stroke="#2a2a2a" stroke-width="1.6" stroke-linecap="butt"/>
<line x1="72.60000000000001" y1="256.8" x2="79.2" y2="256.8" stroke="#111" stroke-width="1.5" stroke-linecap="butt"/>
<rect x="74.4" y="254.0" width="3" height="2.2" rx="0.8" fill="#111"/>
<line x1="72.60000000000001" y1="287.8" x2="79.2" y2="287.8" stroke="#111" stroke-width="1.5" stroke-linecap="butt"/>
<rect x="74.4" y="288.40000000000003" width="3" height="1.6" rx="0.6" fill="#111"/>
<rect x="71.4" y="261.0" width="9.0" height="12.800000000000011" fill="#2e488e" stroke="#1e2d5e" stroke-width="0.7"/>
<line x1="71.4" y1="268.5" x2="80.4" y2="268.5" stroke="#0d1434" stroke-width="1.5" stroke-linecap="butt"/>
<line x1="75.9" y1="323.4" x2="75.9" y2="326.59999999999997" stroke="#151515" stroke-width="1.1" stroke-linecap="butt"/>
<line x1="92.6" y1="280.6" x2="92.6" y2="303.3" stroke="#2a2a2a" stroke-width="1.6" stroke-linecap="butt"/>
<line x1="89.3" y1="280.6" x2="95.89999999999999" y2="280.6" stroke="#111" stroke-width="1.5" stroke-linecap="butt"/>
<rect x="91.1" y="277.8" width="3" height="2.2" rx="0.8" fill="#111"/>
<line x1="89.3" y1="303.3" x2="95.89999999999999" y2="303.3" stroke="#111" stroke-width="1.5" stroke-linecap="butt"/>
<rect x="91.1" y="303.90000000000003" width="3" height="1.6" rx="0.6" fill="#111"/>
<rect x="88.1" y="286.0" width="9.0" height="14.199999999999989" fill="#2e488e" stroke="#1e2d5e" stroke-width="0.7"/>
<line x1="88.1" y1="295.8" x2="97.1" y2="295.8" stroke="#0d1434" stroke-width="1.5" stroke-linecap="butt"/>
<line x1="92.6" y1="323.4" x2="92.6" y2="326.59999999999997" stroke="#151515" stroke-width="1.1" stroke-linecap="butt"/>
<line x1="108.9" y1="254.8" x2="108.9" y2="280.5" stroke="#2a2a2a" stroke-width="1.6" stroke-linecap="butt"/>
<line x1="105.60000000000001" y1="254.8" x2="112.2" y2="254.8" stroke="#111" stroke-width="1.5" stroke-linecap="butt"/>
<rect x="107.4" y="252.0" width="3" height="2.2" rx="0.8" fill="#111"/>
<line x1="105.60000000000001" y1="280.5" x2="112.2" y2="280.5" stroke="#111" stroke-width="1.5" stroke-linecap="butt"/>
<rect x="107.4" y="281.1" width="3" height="1.6" rx="0.6" fill="#111"/>
<rect x="104.4" y="261.8" width="9.0" height="11.899999999999977" fill="#2e488e" stroke="#1e2d5e" stroke-width="0.7"/>
<line x1="104.4" y1="265.7" x2="113.4" y2="265.7" stroke="#0d1434" stroke-width="1.5" stroke-linecap="butt"/>
<line x1="108.9" y1="323.4" x2="108.9" y2="326.59999999999997" stroke="#151515" stroke-width="1.1" stroke-linecap="butt"/>
<line x1="125.6" y1="278.0" x2="125.6" y2="294.1" stroke="#2a2a2a" stroke-width="1.6" stroke-linecap="butt"/>
<line x1="122.3" y1="278.0" x2="128.9" y2="278.0" stroke="#111" stroke-width="1.5" stroke-linecap="butt"/>
<rect x="124.1" y="275.2" width="3" height="2.2" rx="0.8" fill="#111"/>
<line x1="122.3" y1="294.1" x2="128.9" y2="294.1" stroke="#111" stroke-width="1.5" stroke-linecap="butt"/>
<rect x="124.1" y="294.70000000000005" width="3" height="1.6" rx="0.6" fill="#111"/>
<rect x="121.1" y="282.9" width="9.0" height="8.5" fill="#2e488e" stroke="#1e2d5e" stroke-width="0.7"/>
<line x1="121.1" y1="288.3" x2="130.1" y2="288.3" stroke="#0d1434" stroke-width="1.5" stroke-linecap="butt"/>
<line x1="125.6" y1="323.4" x2="125.6" y2="326.59999999999997" stroke="#151515" stroke-width="1.1" stroke-linecap="butt"/>
<line x1="150.0" y1="244.8" x2="150.0" y2="285.6" stroke="#2a2a2a" stroke-width="1.6" stroke-linecap="butt"/>
<line x1="146.7" y1="244.8" x2="153.3" y2="244.8" stroke="#111" stroke-width="1.5" stroke-linecap="butt"/>
<rect x="148.5" y="242.0" width="3" height="2.2" rx="0.8" fill="#111"/>
<line x1="146.7" y1="285.6" x2="153.3" y2="285.6" stroke="#111" stroke-width="1.5" stroke-linecap="butt"/>
<rect x="148.5" y="286.20000000000005" width="3" height="1.6" rx="0.6" fill="#111"/>
<rect x="145.5" y="257.5" width="9.0" height="15.0" fill="#2e488e" stroke="#1e2d5e" stroke-width="0.7"/>
<line x1="145.5" y1="266.4" x2="154.5" y2="266.4" stroke="#0d1434" stroke-width="1.5" stroke-linecap="butt"/>
<line x1="150.0" y1="323.4" x2="150.0" y2="326.59999999999997" stroke="#151515" stroke-width="1.1" stroke-linecap="butt"/>
<line x1="166.3" y1="276.6" x2="166.3" y2="313.6" stroke="#2a2a2a" stroke-width="1.6" stroke-linecap="butt"/>
<line x1="163.0" y1="276.6" x2="169.60000000000002" y2="276.6" stroke="#111" stroke-width="1.5" stroke-linecap="butt"/>
<rect x="164.8" y="273.8" width="3" height="2.2" rx="0.8" fill="#111"/>
<line x1="163.0" y1="313.6" x2="169.60000000000002" y2="313.6" stroke="#111" stroke-width="1.5" stroke-linecap="butt"/>
<rect x="164.8" y="314.20000000000005" width="3" height="1.6" rx="0.6" fill="#111"/>
<rect x="161.8" y="293.5" width="9.0" height="10.0" fill="#2e488e" stroke="#1e2d5e" stroke-width="0.7"/>
<line x1="161.8" y1="295.8" x2="170.8" y2="295.8" stroke="#0d1434" stroke-width="1.5" stroke-linecap="butt"/>
<line x1="166.3" y1="323.4" x2="166.3" y2="326.59999999999997" stroke="#151515" stroke-width="1.1" stroke-linecap="butt"/>
<line x1="182.8" y1="238.2" x2="182.8" y2="287.9" stroke="#2a2a2a" stroke-width="1.6" stroke-linecap="butt"/>
<line x1="179.5" y1="238.2" x2="186.10000000000002" y2="238.2" stroke="#111" stroke-width="1.5" stroke-linecap="butt"/>
<rect x="181.3" y="235.39999999999998" width="3" height="2.2" rx="0.8" fill="#111"/>
<line x1="179.5" y1="287.9" x2="186.10000000000002" y2="287.9" stroke="#111" stroke-width="1.5" stroke-linecap="butt"/>
<rect x="181.3" y="288.5" width="3" height="1.6" rx="0.6" fill="#111"/>
<rect x="178.3" y="251" width="9.0" height="24.19999999999999" fill="#2e488e" stroke="#1e2d5e" stroke-width="0.7"/>
<line x1="178.3" y1="258.5" x2="187.3" y2="258.5" stroke="#0d1434" stroke-width="1.5" stroke-linecap="butt"/>
<line x1="182.8" y1="323.4" x2="182.8" y2="326.59999999999997" stroke="#151515" stroke-width="1.1" stroke-linecap="butt"/>
<line x1="199.3" y1="277.2" x2="199.3" y2="295.1" stroke="#2a2a2a" stroke-width="1.6" stroke-linecap="butt"/>
<line x1="196.0" y1="277.2" x2="202.60000000000002" y2="277.2" stroke="#111" stroke-width="1.5" stroke-linecap="butt"/>
<rect x="197.8" y="274.4" width="3" height="2.2" rx="0.8" fill="#111"/>
<line x1="196.0" y1="295.1" x2="202.60000000000002" y2="295.1" stroke="#111" stroke-width="1.5" stroke-linecap="butt"/>
<rect x="197.8" y="295.70000000000005" width="3" height="1.6" rx="0.6" fill="#111"/>
<rect x="194.8" y="281.2" width="9.0" height="11.199999999999989" fill="#2e488e" stroke="#1e2d5e" stroke-width="0.7"/>
<line x1="194.8" y1="290.9" x2="203.8" y2="290.9" stroke="#0d1434" stroke-width="1.5" stroke-linecap="butt"/>
<line x1="199.3" y1="323.4" x2="199.3" y2="326.59999999999997" stroke="#151515" stroke-width="1.1" stroke-linecap="butt"/>
<text x="62.0" y="336.9" font-size="8.5" text-anchor="end" fill="#2b2b2b" font-weight="normal" stroke="#2b2b2b" stroke-width="0.08">FPI</text>
<text x="75.9" y="336.9" font-size="8.5" text-anchor="middle" fill="#2b2b2b" font-weight="normal" stroke="#2b2b2b" stroke-width="0.08">-</text>
<text x="92.6" y="336.9" font-size="8.5" text-anchor="middle" fill="#2b2b2b" font-weight="normal" stroke="#2b2b2b" stroke-width="0.08">+</text>
<text x="108.9" y="336.9" font-size="8.5" text-anchor="middle" fill="#2b2b2b" font-weight="normal" stroke="#2b2b2b" stroke-width="0.08">+</text>
<text x="125.6" y="336.9" font-size="8.5" text-anchor="middle" fill="#2b2b2b" font-weight="normal" stroke="#2b2b2b" stroke-width="0.08">+</text>
<text x="150.0" y="336.9" font-size="8.5" text-anchor="middle" fill="#2b2b2b" font-weight="normal" stroke="#2b2b2b" stroke-width="0.08">-</text>
<text x="166.3" y="336.9" font-size="8.5" text-anchor="middle" fill="#2b2b2b" font-weight="normal" stroke="#2b2b2b" stroke-width="0.08">+</text>
<text x="182.8" y="336.9" font-size="8.5" text-anchor="middle" fill="#2b2b2b" font-weight="normal" stroke="#2b2b2b" stroke-width="0.08">+</text>
<text x="199.3" y="336.9" font-size="8.5" text-anchor="middle" fill="#2b2b2b" font-weight="normal" stroke="#2b2b2b" stroke-width="0.08">+</text>
<text x="62.0" y="346.9" font-size="8.5" text-anchor="end" fill="#2b2b2b" font-weight="normal" stroke="#2b2b2b" stroke-width="0.08">C1C2</text>
<text x="75.9" y="346.9" font-size="8.5" text-anchor="middle" fill="#2b2b2b" font-weight="normal" stroke="#2b2b2b" stroke-width="0.08">-</text>
<text x="92.6" y="346.9" font-size="8.5" text-anchor="middle" fill="#2b2b2b" font-weight="normal" stroke="#2b2b2b" stroke-width="0.08">-</text>
<text x="108.9" y="346.9" font-size="8.5" text-anchor="middle" fill="#2b2b2b" font-weight="normal" stroke="#2b2b2b" stroke-width="0.08">-</text>
<text x="125.6" y="346.9" font-size="8.5" text-anchor="middle" fill="#2b2b2b" font-weight="normal" stroke="#2b2b2b" stroke-width="0.08">+</text>
<text x="150.0" y="346.9" font-size="8.5" text-anchor="middle" fill="#2b2b2b" font-weight="normal" stroke="#2b2b2b" stroke-width="0.08">-</text>
<text x="166.3" y="346.9" font-size="8.5" text-anchor="middle" fill="#2b2b2b" font-weight="normal" stroke="#2b2b2b" stroke-width="0.08">-</text>
<text x="182.8" y="346.9" font-size="8.5" text-anchor="middle" fill="#2b2b2b" font-weight="normal" stroke="#2b2b2b" stroke-width="0.08">-</text>
<text x="199.3" y="346.9" font-size="8.5" text-anchor="middle" fill="#2b2b2b" font-weight="normal" stroke="#2b2b2b" stroke-width="0.08">+</text>
<text x="62.0" y="356.6" font-size="8.5" text-anchor="end" fill="#2b2b2b" font-weight="normal" stroke="#2b2b2b" stroke-width="0.08" textLength="42.5" lengthAdjust="spacingAndGlyphs">Lactadherin</text>
<text x="75.9" y="356.6" font-size="8.5" text-anchor="middle" fill="#2b2b2b" font-weight="normal" stroke="#2b2b2b" stroke-width="0.08">-</text>
<text x="92.6" y="356.6" font-size="8.5" text-anchor="middle" fill="#2b2b2b" font-weight="normal" stroke="#2b2b2b" stroke-width="0.08">-</text>
<text x="108.9" y="356.6" font-size="8.5" text-anchor="middle" fill="#2b2b2b" font-weight="normal" stroke="#2b2b2b" stroke-width="0.08">+</text>
<text x="125.6" y="356.6" font-size="8.5" text-anchor="middle" fill="#2b2b2b" font-weight="normal" stroke="#2b2b2b" stroke-width="0.08">-</text>
<text x="150.0" y="356.6" font-size="8.5" text-anchor="middle" fill="#2b2b2b" font-weight="normal" stroke="#2b2b2b" stroke-width="0.08">-</text>
<text x="166.3" y="356.6" font-size="8.5" text-anchor="middle" fill="#2b2b2b" font-weight="normal" stroke="#2b2b2b" stroke-width="0.08">-</text>
<text x="182.8" y="356.6" font-size="8.5" text-anchor="middle" fill="#2b2b2b" font-weight="normal" stroke="#2b2b2b" stroke-width="0.08">+</text>
<text x="199.3" y="356.6" font-size="8.5" text-anchor="middle" fill="#2b2b2b" font-weight="normal" stroke="#2b2b2b" stroke-width="0.08">-</text>
<polyline points="70.6,357.8 70.6,360.6 129.2,360.6 129.2,357.8" fill="none" stroke="#151515" stroke-width="1.5"/>
<text x="100" y="371.4" font-size="8.5" text-anchor="middle" fill="#2b2b2b" font-weight="normal" stroke="#2b2b2b" stroke-width="0.08" textLength="32" lengthAdjust="spacingAndGlyphs">3 hr post</text>
<polyline points="146.25,357.8 146.25,360.6 203.25,360.6 203.25,357.8" fill="none" stroke="#151515" stroke-width="1.5"/>
<text x="173.5" y="371.4" font-size="8.5" text-anchor="middle" fill="#2b2b2b" font-weight="normal" stroke="#2b2b2b" stroke-width="0.08" textLength="32" lengthAdjust="spacingAndGlyphs">6 hr post</text>
<text x="70" y="235.2" font-size="8.5" text-anchor="start" fill="#2b2b2b" font-weight="normal" stroke="#2b2b2b" stroke-width="0.08" textLength="27" lengthAdjust="spacingAndGlyphs">p &lt; 0.01</text>
<line x1="74.5" y1="237.2" x2="92.5" y2="237.2" stroke="#151515" stroke-width="1.3" stroke-linecap="butt"/>
<text x="86" y="247.2" font-size="8.5" text-anchor="start" fill="#2b2b2b" font-weight="normal" stroke="#2b2b2b" stroke-width="0.08" textLength="29" lengthAdjust="spacingAndGlyphs">p &lt; 0.01</text>
<line x1="92.5" y1="249.2" x2="108.75" y2="249.2" stroke="#151515" stroke-width="1.3" stroke-linecap="butt"/>
<text x="103" y="236.2" font-size="8.5" text-anchor="start" fill="#2b2b2b" font-weight="normal" stroke="#2b2b2b" stroke-width="0.08" textLength="28" lengthAdjust="spacingAndGlyphs">p &lt; 0.01</text>
<line x1="108.75" y1="238.2" x2="126" y2="238.2" stroke="#151515" stroke-width="1.3" stroke-linecap="butt"/>
<text x="143.75" y="222.2" font-size="8.5" text-anchor="start" fill="#2b2b2b" font-weight="normal" stroke="#2b2b2b" stroke-width="0.08" textLength="28.75" lengthAdjust="spacingAndGlyphs">p &lt; 0.01</text>
<line x1="149.5" y1="224.3" x2="167.5" y2="224.3" stroke="#151515" stroke-width="1.3" stroke-linecap="butt"/>
<text x="162.5" y="231.2" font-size="8.5" text-anchor="start" fill="#2b2b2b" font-weight="normal" stroke="#2b2b2b" stroke-width="0.08" textLength="27.5" lengthAdjust="spacingAndGlyphs">p &lt; 0.01</text>
<line x1="168.75" y1="233.1" x2="184.5" y2="233.1" stroke="#151515" stroke-width="1.3" stroke-linecap="butt"/>
<text x="180.75" y="219.6" font-size="8.5" text-anchor="start" fill="#2b2b2b" font-weight="normal" stroke="#2b2b2b" stroke-width="0.08" textLength="27.5" lengthAdjust="spacingAndGlyphs">p &lt; 0.01</text>
<line x1="187" y1="221.3" x2="203.25" y2="221.3" stroke="#151515" stroke-width="1.3" stroke-linecap="butt"/>
</svg></body></html>
